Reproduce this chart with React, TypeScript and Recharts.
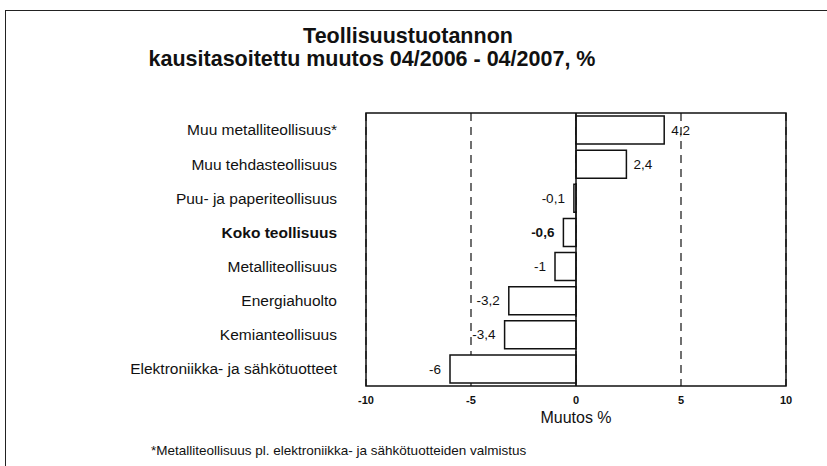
import React from "react";
import { BarChart, Bar, XAxis, YAxis, ReferenceLine, ReferenceArea, LabelList, CartesianGrid } from "recharts";

const categories = [
  "Muu metalliteollisuus*",
  "Muu tehdasteollisuus",
  "Puu- ja paperiteollisuus",
  "Koko teollisuus",
  "Metalliteollisuus",
  "Energiahuolto",
  "Kemianteollisuus",
  "Elektroniikka- ja sähkötuotteet",
];
const values = [4.2, 2.4, -0.1, -0.6, -1, -3.2, -3.4, -6];
const boldCategory = "Koko teollisuus";
const xTicks = [-10, -5, 0, 5, 10];
const titleLines = ["Teollisuustuotannon", "kausitasoitettu muutos 04/2006 - 04/2007, %"];
const xAxisTitle = "Muutos %";
const footnote = "*Metalliteollisuus pl. elektroniikka- ja sähkötuotteiden valmistus";

const data = categories.map((name, i) => ({ name, value: values[i] }));
const fmt = (v: number) => String(v).replace(".", ",");
const FONT = "'Liberation Sans', Arial, sans-serif";

const YTick = (props: any) => {
  const { y, payload } = props;
  const bold = payload.value === boldCategory;
  return (
    <text x={337} y={y} dy="0.35em" textAnchor="end" fontFamily={FONT} fontSize={15.5}
      fontWeight={bold ? "bold" : "normal"} fill="#111">
      {payload.value}
    </text>
  );
};

const XTick = (props: any) => {
  const { x, payload } = props;
  return (
    <text x={x} y={404} textAnchor="middle" fontFamily={FONT} fontSize={11} fontWeight="bold" fill="#111">
      {payload.value}
    </text>
  );
};

const ValueLabel = (props: any) => {
  const { x, y, width, height, value, index } = props;
  const bold = categories[index] === boldCategory;
  const neg = value < 0;
  const endX = neg ? Math.min(x, x + width) : Math.max(x, x + width);
  return (
    <text x={neg ? endX - 9 : endX + 7} y={y + height / 2} dy="0.35em" textAnchor={neg ? "end" : "start"}
      fontFamily={FONT} fontSize={13.5} fontWeight={bold ? "bold" : "normal"} fill="#111">
      {fmt(value)}
    </text>
  );
};

export default function App() {
  return (
    <div style={{ position: "absolute", left: 0, top: 0, width: 827, height: 466, background: "#fff", overflow: "hidden" }}>
      <div style={{ position: "absolute", left: 5, top: 10, width: 900, height: 500,
        borderTop: "1.5px solid #222", borderLeft: "1.5px solid #222" }} />
      <BarChart width={827} height={466} data={data} layout="vertical"
        margin={{ top: 113, right: 41, bottom: 0, left: 0 }} barCategoryGap={3}>
        <CartesianGrid horizontal={false} vertical={true} stroke="#111" strokeWidth={1.2} strokeDasharray="8 6" />
        <XAxis type="number" domain={[-10, 10]} ticks={xTicks} tickLine={false} axisLine={false}
          height={80} tick={<XTick />} interval={0} />
        <YAxis type="category" dataKey="name" width={366} tickLine={false} axisLine={false}
          tick={<YTick />} interval={0} />
        <ReferenceLine x={0} stroke="#111" strokeWidth={1.5} />
        <Bar dataKey="value" fill="#fff" stroke="#111" strokeWidth={1.5} barSize={28} isAnimationActive={false}>
          <LabelList dataKey="value" content={<ValueLabel />} />
        </Bar>
        <ReferenceArea x1={-10} x2={10} fill="none" stroke="#111" strokeWidth={1.5} fillOpacity={0} />
      </BarChart>
      <svg width={827} height={466} style={{ position: "absolute", left: 0, top: 0, pointerEvents: "none" }}>
        <text x={408} y={43} textAnchor="middle" fontFamily={FONT} fontSize={21.5} fontWeight="bold" fill="#111">
          {titleLines[0]}
        </text>
        <text x={372} y={66} textAnchor="middle" fontFamily={FONT} fontSize={21.5} fontWeight="bold" fill="#111">
          {titleLines[1]}
        </text>
        <text x={576} y={423} textAnchor="middle" fontFamily={FONT} fontSize={16} fill="#111">
          {xAxisTitle}
        </text>
        <text x={151} y={455} fontFamily={FONT} fontSize={13.5} fill="#111">
          {footnote}
        </text>
      </svg>
    </div>
  );
}
